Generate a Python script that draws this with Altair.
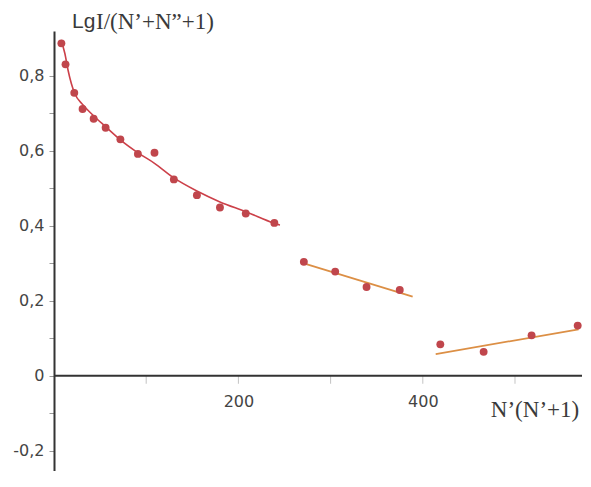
import altair as alt
import pandas as pd

# measured points
g1_x = [8, 12.5, 22, 31, 43, 56, 72, 91, 109, 130, 155, 180, 208, 239]
g1_y = [0.887, 0.831, 0.755, 0.712, 0.686, 0.662, 0.631, 0.592, 0.595, 0.524, 0.482, 0.449, 0.433, 0.408]
g2_x = [271, 305, 339, 375]
g2_y = [0.304, 0.278, 0.237, 0.229]
g3_x = [419, 466, 518, 568]
g3_y = [0.084, 0.064, 0.108, 0.134]

# fitted curves
c1_x = [7.5, 11.8, 15.2, 18.8, 22.4, 31.3, 42, 56.3, 72.3, 91.1, 109, 130, 155, 180, 208, 239, 245]
c1_y = [0.896, 0.860, 0.816, 0.780, 0.754, 0.723, 0.696, 0.664, 0.629, 0.595, 0.567, 0.528, 0.493, 0.464, 0.438, 0.407, 0.402]
c2_x = [271, 389]
c2_y = [0.300, 0.211]
c3_x = [414, 569]
c3_y = [0.058, 0.124]

x_ticks = [100, 200, 300, 400, 500]
y_ticks = [-0.2, -0.1, 0.0, 0.1, 0.2, 0.3, 0.4, 0.5, 0.6, 0.7, 0.8]
x_axis_range = [0, 573]

pts = pd.DataFrame({"x": g1_x + g2_x + g3_x, "y": g1_y + g2_y + g3_y})
c1 = pd.DataFrame({"x": c1_x, "y": c1_y})
c2 = pd.DataFrame({"x": c2_x, "y": c2_y})
c3 = pd.DataFrame({"x": c3_x, "y": c3_y})
xax = pd.DataFrame({"x": [x_axis_range[0]], "x2": [x_axis_range[1]], "y": [0.0]})
xt = pd.DataFrame({"x": x_ticks, "y": [0.0] * len(x_ticks)})

W, H = 520, 440
YMIN, YMAX = -0.254, 0.92
x_off = -round(H * (0 - YMIN) / (YMAX - YMIN))

xs = alt.Scale(domain=[0, 564], nice=False, zero=False)
ys = alt.Scale(domain=[YMIN, YMAX], nice=False, zero=False)

x_enc = alt.X("x:Q", scale=xs, axis=alt.Axis(
    values=x_ticks, title=None, grid=False, offset=x_off,
    labelExpr="datum.value % 200 == 0 ? datum.label : ''",
    domain=False, ticks=False,
    labelFont="DejaVu Sans", labelFontSize=16, labelColor="#444", labelPadding=17,
))
y_enc = alt.Y("y:Q", scale=ys, axis=alt.Axis(
    values=y_ticks, title=None, grid=False,
    labelExpr="abs(round(datum.value*10)) % 2 == 0 ? (abs(datum.value) < 1e-9 ? '0' : replace(replace(format(datum.value, '.1f'), '.', ','), '\u2212', '-')) : ''",
    domainColor="#333", domainWidth=2, tickColor="#999", tickSize=5,
    labelFont="DejaVu Sans", labelFontSize=16, labelColor="#444", labelPadding=5,
))

axis_line = alt.Chart(xax).mark_rule(color="#333", strokeWidth=2).encode(x=x_enc, x2="x2:Q", y=y_enc)
axis_ticks = alt.Chart(xt).mark_tick(color="#aaa", thickness=1, size=8, orient="vertical", yOffset=4).encode(x=x_enc, y=y_enc)
points = alt.Chart(pts).mark_circle(size=62, color="#c0464c", opacity=1).encode(x=x_enc, y=y_enc)
line1 = alt.Chart(c1).mark_line(color="#cc4049", strokeWidth=1.6, interpolate="monotone").encode(x=x_enc, y=y_enc)
line2 = alt.Chart(c2).mark_line(color="#dc8f45", strokeWidth=1.8).encode(x=x_enc, y=y_enc)
line3 = alt.Chart(c3).mark_line(color="#dc8f45", strokeWidth=1.8).encode(x=x_enc, y=y_enc)

t1 = alt.Chart(pd.DataFrame({"t": ["Lg"]})).mark_text(
    font="Liberation Sans", fontSize=21, color="#3a3a3a", align="left", baseline="middle"
).encode(x=alt.value(18), y=alt.value(-9), text="t:N")
t2 = alt.Chart(pd.DataFrame({"t": ["I/(N\u2019+N\u201d+1)"]})).mark_text(
    font="Liberation Serif", fontSize=23, color="#3a3a3a", align="left", baseline="middle"
).encode(x=alt.value(42), y=alt.value(-9), text="t:N")
t3 = alt.Chart(pd.DataFrame({"t": ["N\u2019(N\u2019+1)"]})).mark_text(
    font="Liberation Serif", fontSize=23, color="#3a3a3a", align="center", baseline="middle"
).encode(x=alt.value(481), y=alt.value(379), text="t:N")

chart = alt.layer(axis_ticks, axis_line, line1, line2, line3, points, t1, t2, t3).properties(
    width=W, height=H, autosize="none",
    padding={"left": 46, "top": 23, "right": 8, "bottom": 0},
).configure_view(stroke=None)

chart.save("out.html", embed_options={"renderer": "svg", "actions": False})
